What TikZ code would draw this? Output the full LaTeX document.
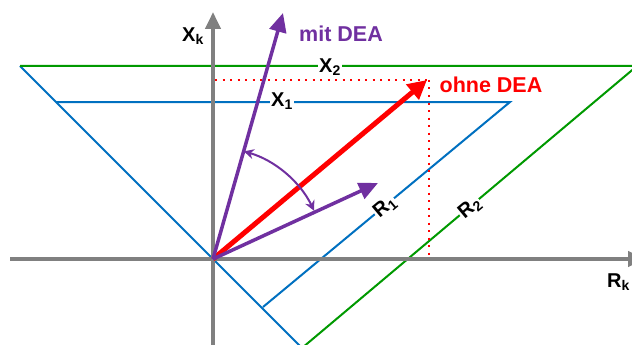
\documentclass[tikz,border=0pt]{standalone}
\usepackage{fontspec}
\setmainfont{Liberation Sans}
\usetikzlibrary{arrows.meta,calc}
\definecolor{cblue}{RGB}{0,112,192}
\definecolor{cgreen}{RGB}{0,153,0}
\definecolor{cpurple}{RGB}{112,48,160}
\definecolor{cgray}{RGB}{128,128,128}
\definecolor{cred}{RGB}{255,0,0}
\tikzset{
  axisline/.style={draw=cgray,line width=4pt,-{Triangle[length=17pt,width=15pt]}},
  blueline/.style={draw=cblue,line width=2pt},
  greenline/.style={draw=cgreen,line width=2pt},
  dotline/.style={draw=cred,line width=2pt,dash pattern=on 2pt off 5.5pt},
  purplevec/.style={draw=cpurple,line width=3.5pt,-{Triangle[length=19pt,width=17pt]}},
  redvec/.style={draw=cred,line width=5pt,-{Triangle[length=19pt,width=19pt]}},
  anglearc/.style={draw=cpurple,line width=2pt,{Stealth[length=10pt,width=10pt]}-{Stealth[length=10pt,width=10pt]}},
  lbl/.style={font=\fontsize{20}{24}\selectfont\bfseries,inner sep=1pt},
  onlbl/.style={lbl,fill=white},
  biglbl/.style={font=\fontsize{21.5}{25}\selectfont\bfseries,inner sep=1pt}
}
\begin{document}
\begin{tikzpicture}[x=1pt,y=-1pt]
\useasboundingbox (0,0) rectangle (632,345);
\clip (0,0) rectangle (632,345);
% key points
\coordinate (O) at (213,259);
\coordinate (TL) at (20,66);
\coordinate (BL) at (306,352);
\coordinate (GR) at (637,66);
\coordinate (GB) at (302,348);
\coordinate (BA) at (56,102);
\coordinate (BB) at (510,102);
\coordinate (BC) at (263,307);
\coordinate (RT) at (427,80);
\coordinate (RX) at (429,80);
\coordinate (RY) at (429,259);
\coordinate (RL) at (215,80);
\coordinate (MT) at (283,13);
\coordinate (R1T) at (378,183);
\coordinate (AXL) at (10,259);
\coordinate (AXR) at (645,259);
\coordinate (AYB) at (213,350);
\coordinate (AYT) at (213,12);
% level lines
\draw[blueline] (TL) -- (BL);
\draw[blueline] (BA) -- (BB) -- (BC);
\draw[greenline] (TL) -- (GR) -- (GB);
% dotted projections
\draw[dotline] (RL) -- (RX);
\draw[dotline] (RX) -- (RY);
% axes
\draw[axisline] (AXL) -- (AXR);
\draw[axisline] (AYB) -- (AYT);
% labels on lines
\node[onlbl] (x2) at (330,67) {X\textsubscript{2}};
\node[onlbl] (x1) at (282,101) {X\textsubscript{1}};
\node[onlbl,rotate=40] (r1) at (385,207) {R\textsubscript{1}};
\node[onlbl,rotate=40] (r2) at (470,208) {R\textsubscript{2}};
\node[lbl] (xk) at (193,36) {X\textsubscript{k}};
\node[lbl,anchor=east] (rk) at (631,282) {R\textsubscript{k}};
% vectors
\draw[redvec] (O) -- (RT);
\draw[purplevec] (O) -- (MT);
\draw[purplevec] (O) -- (R1T);
\draw[anglearc] ($(O)+(-74:112)$) arc[start angle=-74,end angle=-25.5,radius=112];
% vector labels
\node[biglbl,text=cpurple] (mit) at (341,34) {mit DEA};
\node[biglbl,text=cred] (ohne) at (491,85) {ohne DEA};
\end{tikzpicture}
\end{document}
